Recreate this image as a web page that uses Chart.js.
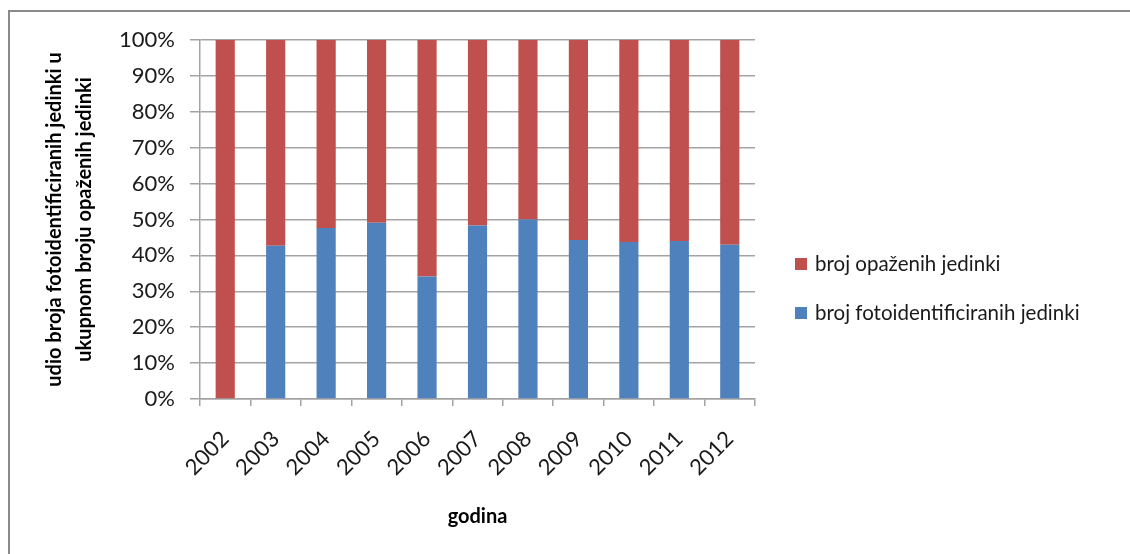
<!DOCTYPE html>
<html>
<head>
<meta charset="utf-8">
<title>Udio fotoidentificiranih jedinki</title>
<script src="https://cdn.jsdelivr.net/npm/chart.js@4/dist/chart.umd.min.js"></script>
<style>
  html, body { margin: 0; padding: 0; background: #ffffff; }
  canvas { display: block; }
</style>
</head>
<body>
<canvas id="c" width="1130" height="554"></canvas>
<script>
// Years on the horizontal axis
const years = ['2002', '2003', '2004', '2005', '2006', '2007', '2008', '2009', '2010', '2011', '2012'];

// Share (%) of photo-identified individuals per year
const fotoidentificirane = [0, 42.7, 47.6, 49.1, 34.1, 48.3, 50.0, 44.3, 43.7, 44.0, 43.0];

// Remaining share (%) of observed individuals per year
const opazene = [100, 57.3, 52.4, 50.9, 65.9, 51.7, 50.0, 55.7, 56.3, 56.0, 57.0];

// Value axis ticks
const yTicks = [0, 10, 20, 30, 40, 50, 60, 70, 80, 90, 100];

const seriesNames = ['broj fotoidentificiranih jedinki', 'broj opaženih jedinki'];
const yTitle = ['udio broja fotoidentificiranih jedinki u', 'ukupnom broju opaženih jedinki'];
const xTitle = 'godina';

const FONT = 'Lato, "Noto Sans", sans-serif';
const GRID = '#a3a3a3';

// Outer frame of the chart object
const framePlugin = {
  id: 'frame',
  afterDraw(chart) {
    const ctx = chart.ctx;
    ctx.save();
    ctx.strokeStyle = '#8a8a8a';
    ctx.lineWidth = 2;
    ctx.beginPath();
    ctx.moveTo(9, chart.height);
    ctx.lineTo(9, 11);
    ctx.lineTo(chart.width, 11);
    ctx.stroke();
    ctx.restore();
  }
};

// Legend to the right of the plot, top series listed first
const sideLegend = {
  id: 'sideLegend',
  afterDraw(chart) {
    const ctx = chart.ctx;
    const items = chart.data.datasets.slice().reverse();
    const x0 = 795, y0 = 264, gap = 49, box = 12;
    ctx.save();
    ctx.font = '20.5px ' + FONT;
    ctx.textBaseline = 'middle';
    ctx.textAlign = 'left';
    items.forEach((ds, i) => {
      const cy = y0 + i * gap;
      ctx.fillStyle = ds.backgroundColor;
      ctx.fillRect(x0, cy - box / 2, box, box);
      ctx.fillStyle = '#1a1a1a';
      ctx.fillText(ds.label, x0 + 20, cy);
    });
    ctx.restore();
  }
};

new Chart(document.getElementById('c'), {
  type: 'bar',
  data: {
    labels: years,
    datasets: [
      {
        label: seriesNames[0],
        data: fotoidentificirane,
        backgroundColor: '#4f81bd',
        borderWidth: 0
      },
      {
        label: seriesNames[1],
        data: opazene,
        backgroundColor: '#c0504d',
        borderWidth: 0
      }
    ]
  },
  options: {
    responsive: false,
    animation: false,
    events: [],
    layout: { padding: { top: 40, right: 375, bottom: 0, left: 0 } },
    datasets: { bar: { categoryPercentage: 1.0, barPercentage: 0.38 } },
    plugins: {
      legend: { display: false },
      tooltip: { enabled: false }
    },
    scales: {
      x: {
        stacked: true,
        offset: true,
        grid: {
          display: true,
          offset: true,
          drawOnChartArea: false,
          drawTicks: true,
          tickLength: 7,
          color: GRID,
          lineWidth: 1.5
        },
        border: { display: true, color: GRID, width: 1.5 },
        ticks: {
          autoSkip: false,
          minRotation: 45,
          maxRotation: 45,
          padding: 20,
          color: '#1a1a1a',
          font: { family: FONT, size: 22 }
        },
        title: {
          display: true,
          text: xTitle,
          color: '#000000',
          font: { family: FONT, size: 20, weight: 'bold', lineHeight: 1.2 },
          padding: { top: 0, bottom: 25 }
        },
        afterFit(scale) { scale.height = 155; }
      },
      y: {
        stacked: true,
        min: 0,
        max: 100,
        afterBuildTicks(scale) { scale.ticks = yTicks.map(v => ({ value: v })); },
        grid: {
          color: GRID,
          lineWidth: 1.5,
          drawTicks: true,
          tickLength: 10
        },
        border: { display: true, color: GRID, width: 1.5 },
        ticks: {
          padding: 15,
          color: '#1a1a1a',
          font: { family: FONT, size: 22 },
          callback: v => v + '%'
        },
        title: {
          display: true,
          text: yTitle,
          color: '#000000',
          font: { family: FONT, size: 20, weight: 'bold', lineHeight: 1.5 },
          padding: { top: 40, bottom: 0 }
        },
        afterFit(scale) { scale.width = 200; }
      }
    }
  },
  plugins: [framePlugin, sideLegend]
});
</script>
</body>
</html>
